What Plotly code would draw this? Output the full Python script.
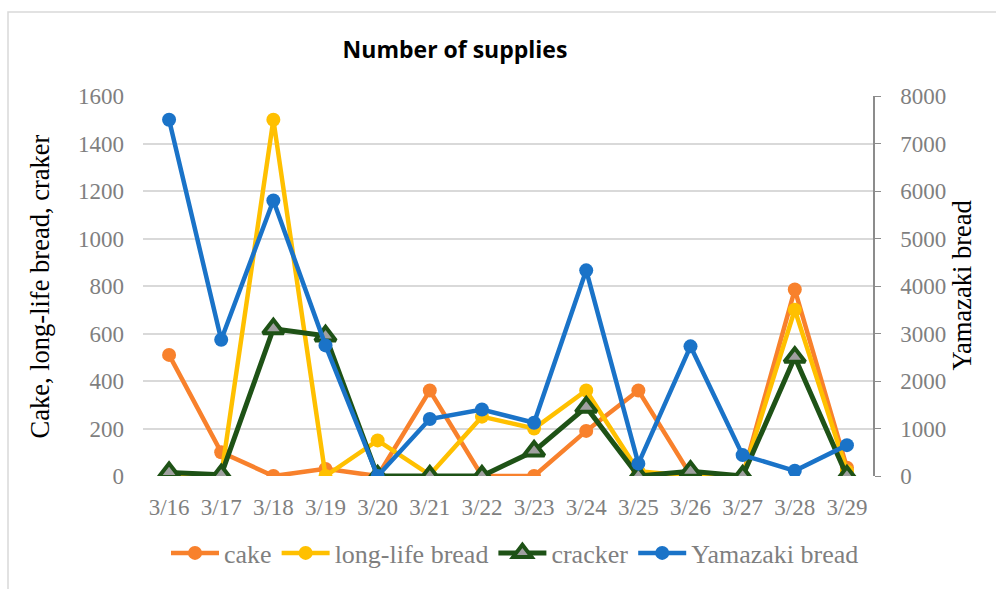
import plotly.graph_objects as go

dates = ["3/16", "3/17", "3/18", "3/19", "3/20", "3/21", "3/22",
         "3/23", "3/24", "3/25", "3/26", "3/27", "3/28", "3/29"]
cake = [510, 100, 0, 30, 0, 360, 0, 0, 190, 360, 5, 0, 785, 35]
long_life_bread = [5, 0, 1500, 0, 150, 5, 250, 200, 360, 20, 0, 0, 700, 20]
cracker = [15, 5, 620, 590, 0, 0, 0, 105, 290, 0, 20, 0, 500, 0]
yamazaki_bread = [7500, 2870, 5800, 2750, 0, 1200, 1400, 1120, 4330, 260, 2730, 440, 110, 650]

left_ticks = [0, 200, 400, 600, 800, 1000, 1200, 1400, 1600]
right_ticks = [0, 1000, 2000, 3000, 4000, 5000, 6000, 7000, 8000]

C_CAKE = "#F8812C"
C_LONG = "#FFC000"
C_CRACK = "#1E5216"
C_YAMA = "#1A73C8"

serif = "Liberation Serif"

fig = go.Figure()
fig.add_trace(go.Scatter(x=dates, y=cake, name="cake", mode="lines+markers",
                         line=dict(color=C_CAKE, width=4.5),
                         marker=dict(symbol="circle", size=14, color=C_CAKE)))
fig.add_trace(go.Scatter(x=dates, y=long_life_bread, name="long-life bread", mode="lines+markers",
                         line=dict(color=C_LONG, width=4.5),
                         marker=dict(symbol="circle", size=14, color=C_LONG)))
fig.add_trace(go.Scatter(x=dates, y=cracker, name="cracker", mode="lines+markers",
                         line=dict(color=C_CRACK, width=5),
                         marker=dict(symbol="triangle-up", size=18, color="#A0A0A0",
                                     line=dict(color=C_CRACK, width=4))))
fig.add_trace(go.Scatter(x=dates, y=yamazaki_bread, name="Yamazaki bread", mode="lines+markers",
                         yaxis="y2",
                         line=dict(color=C_YAMA, width=4.5),
                         marker=dict(symbol="circle", size=14, color=C_YAMA)))

W, H = 996, 589
L, R, T, B = 143, 123, 96, 108
pw, ph = W - L - R, H - T - B

def px_x(x):
    return (x - L) / pw

def px_y(y):
    return (H - B - y) / ph

fig.update_layout(
    width=W, height=H,
    margin=dict(l=L, r=R, t=T, b=B),
    paper_bgcolor="white", plot_bgcolor="white",
    title=dict(text="<b>Number of supplies</b>", x=455/W, xanchor="center",
               y=1 - 50/H, yanchor="middle", xref="container", yref="container",
               font=dict(family="Open Sans", size=23, color="black")),
    xaxis=dict(type="category", range=[-0.5, len(dates) - 0.5],
               showgrid=False, showline=False, ticks="",
               tickfont=dict(family=serif, size=23, color="#7F7F7F"),
               ticklabelstandoff=15, zeroline=False, automargin=False),
    yaxis=dict(range=[0, 1600], tickvals=left_ticks, showgrid=True,
               gridcolor="#D9D9D9", gridwidth=1.5, zeroline=False, showline=False,
               tickfont=dict(family=serif, size=23, color="#7F7F7F"),
               ticklabelstandoff=18, automargin=False),
    yaxis2=dict(range=[0, 8000], tickvals=right_ticks, overlaying="y", side="right",
                showgrid=False, zeroline=False, showline=True, linecolor="#8C8C8C",
                linewidth=1.5, ticks="outside", ticklen=6, tickcolor="#8C8C8C",
                tickfont=dict(family=serif, size=23, color="#7F7F7F"),
                ticklabelstandoff=15, automargin=False),
    legend=dict(orientation="h", x=px_x(515), xanchor="center",
                y=px_y(559), yanchor="middle",
                font=dict(family=serif, size=26, color="#7F7F7F"),
                itemwidth=48, tracegroupgap=0),
    showlegend=True,
    annotations=[
        dict(text="Cake, long-life bread, craker", textangle=-90, showarrow=False,
             xref="paper", yref="paper", x=px_x(40), y=px_y(289),
             xanchor="center", yanchor="middle",
             font=dict(family=serif, size=26.5, color="black")),
        dict(text="Yamazaki bread", textangle=-90, showarrow=False,
             xref="paper", yref="paper", x=px_x(962), y=px_y(288),
             xanchor="center", yanchor="middle",
             font=dict(family=serif, size=26.5, color="black")),
    ],
    shapes=[dict(type="rect", xref="paper", yref="paper",
                 x0=px_x(8), x1=px_x(1005),
                 y0=px_y(600), y1=px_y(11),
                 line=dict(color="#D9D9D9", width=1.5), fillcolor="rgba(0,0,0,0)",
                 layer="below")],
)

fig.write_html("out.html")
